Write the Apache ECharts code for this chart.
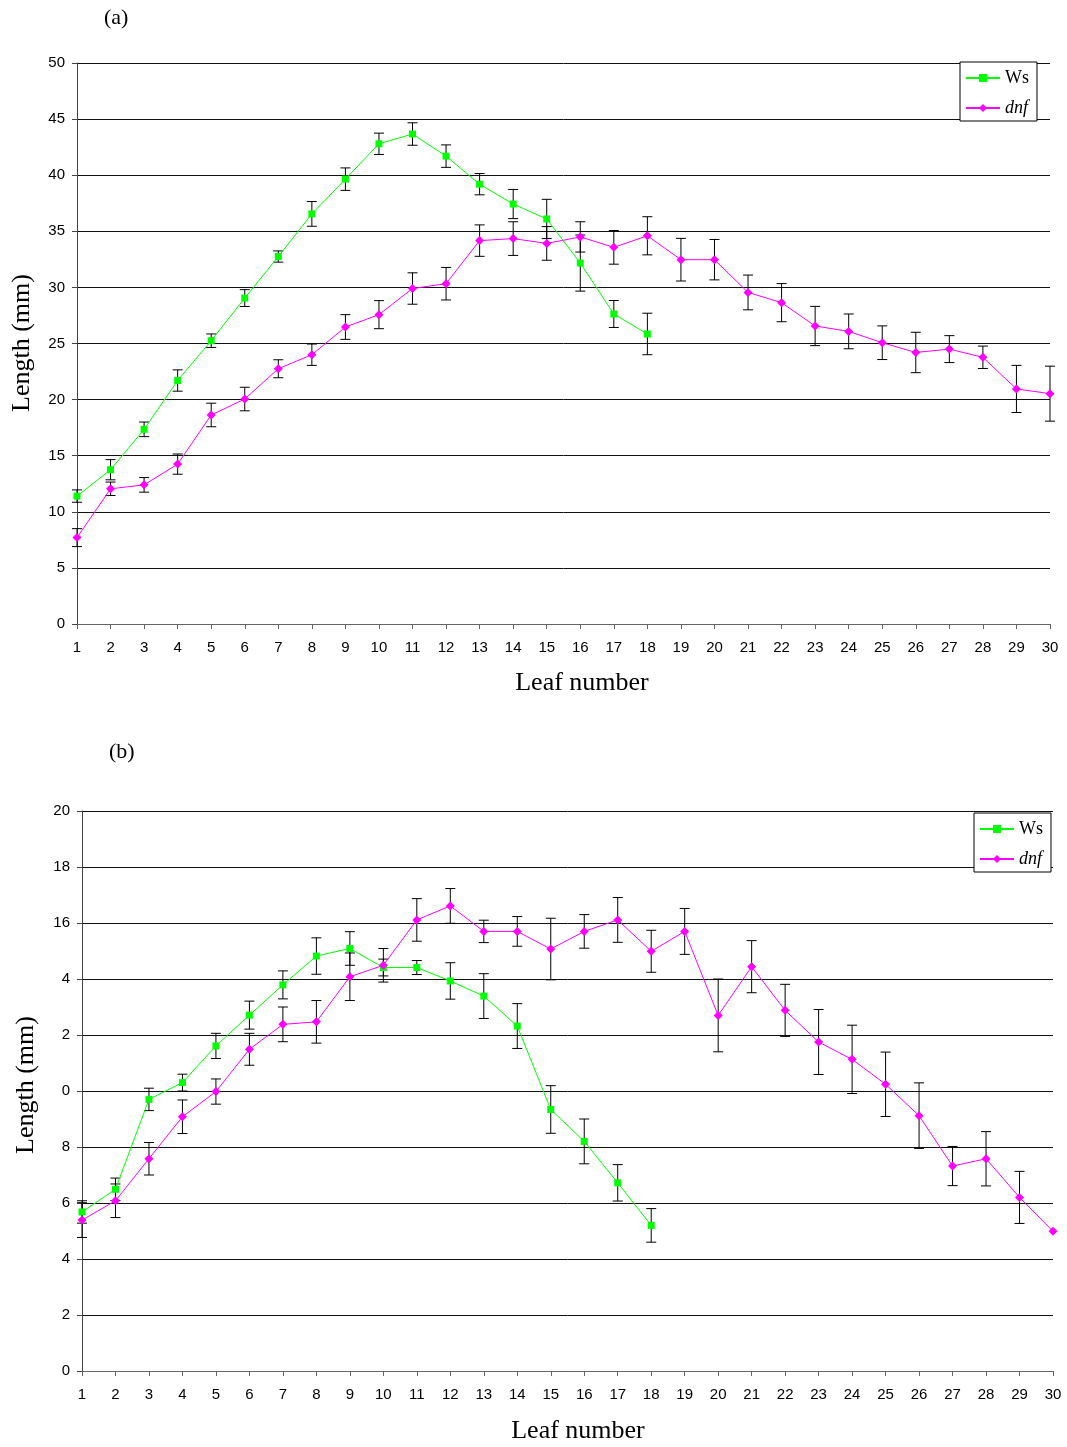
<!DOCTYPE html>
<html>
<head>
<meta charset="utf-8">
<script src="https://cdn.jsdelivr.net/npm/echarts@6/dist/echarts.min.js"></script>
<style>
  html, body { margin: 0; padding: 0; background: #fff; }
  #chart { width: 1067px; height: 1447px; }
</style>
</head>
<body>
<div id="chart"></div>
<script>
// Leaf numbers along the x axis
const leaves = [1,2,3,4,5,6,7,8,9,10,11,12,13,14,15,16,17,18,19,20,21,22,23,24,25,26,27,28,29,30];

// Panel (a): leaf length (mm) with error (±)
const wsA    = [11.4, 13.75, 17.35, 21.7, 25.25, 29.05, 32.75, 36.55, 39.65, 42.8, 43.67, 41.7, 39.2, 37.43, 36.1, 32.17, 27.63, 25.85];
const wsAErr = [0.55, 0.9, 0.65, 0.95, 0.6, 0.75, 0.5, 1.1, 1.0, 0.95, 1.0, 1.0, 0.95, 1.3, 1.75, 2.5, 1.2, 1.85];
const dnfA    = [7.7, 12.05, 12.4, 14.25, 18.63, 20.05, 22.75, 24.0, 26.47, 27.57, 29.9, 30.33, 34.17, 34.35, 33.92, 34.5, 33.57, 34.6, 32.47, 32.47, 29.55, 28.64, 26.56, 26.08, 25.07, 24.2, 24.5, 23.77, 20.95, 20.53];
const dnfAErr = [0.8, 0.6, 0.65, 0.9, 1.05, 1.05, 0.8, 0.95, 1.1, 1.25, 1.4, 1.45, 1.4, 1.5, 1.5, 1.35, 1.5, 1.7, 1.9, 1.8, 1.55, 1.7, 1.75, 1.55, 1.5, 1.8, 1.2, 1.0, 2.1, 2.45];

// Panel (b): leaf length (mm) with error (±)
const wsB    = [5.68, 6.49, 9.7, 10.3, 11.61, 12.71, 13.79, 14.82, 15.09, 14.41, 14.41, 13.93, 13.39, 12.32, 9.34, 8.2, 6.72, 5.2];
const wsBErr = [0.4, 0.4, 0.4, 0.3, 0.45, 0.5, 0.5, 0.65, 0.6, 0.3, 0.25, 0.65, 0.8, 0.8, 0.85, 0.8, 0.65, 0.6];
const dnfB    = [5.39, 6.08, 7.58, 9.08, 9.98, 11.49, 12.38, 12.47, 14.08, 14.49, 16.11, 16.61, 15.7, 15.7, 15.07, 15.7, 16.11, 14.99, 15.7, 12.7, 14.44, 12.88, 11.75, 11.13, 10.24, 9.12, 7.32, 7.58, 6.2, 4.99];
const dnfBErr = [0.62, 0.6, 0.58, 0.6, 0.45, 0.57, 0.62, 0.76, 0.85, 0.6, 0.76, 0.62, 0.4, 0.53, 1.1, 0.6, 0.8, 0.75, 0.82, 1.3, 0.93, 0.93, 1.16, 1.22, 1.15, 1.17, 0.7, 0.97, 0.93, 0];

// Y tick labels of panel (b), as printed on its axis
const bTickLabels = ['0', '2', '4', '6', '8', '0', '2', '4', '16', '18', '20'];

const GREEN = '#00ff00';
const MAGENTA = '#ff00ff';
const SANS = '"Liberation Sans", Arial, sans-serif';
const SERIF = '"Liberation Serif", "Times New Roman", serif';

const pairs = (vals) => vals.map((v, i) => [leaves[i], v]);
const triples = (vals, errs) => vals.map((v, i) => [leaves[i], v, errs[i]]);

// Vertical error bar with caps
function renderErr(params, api) {
  const x = api.value(0), y = api.value(1), e = api.value(2);
  if (!e) return null;
  const hi = api.coord([x, y + e]);
  const lo = api.coord([x, y - e]);
  const w = 5;
  const st = { stroke: '#000', lineWidth: 1 };
  return {
    type: 'group',
    children: [
      { type: 'line', shape: { x1: hi[0], y1: hi[1], x2: lo[0], y2: lo[1] }, style: st },
      { type: 'line', shape: { x1: hi[0] - w, y1: hi[1], x2: hi[0] + w, y2: hi[1] }, style: st },
      { type: 'line', shape: { x1: lo[0] - w, y1: lo[1], x2: lo[0] + w, y2: lo[1] }, style: st }
    ]
  };
}

function xAxisCfg(gridIndex) {
  return {
    type: 'value', gridIndex, min: 1, max: 30, interval: 1,
    axisLine: { show: true, onZero: false, lineStyle: { color: '#666', width: 1 } },
    axisTick: { show: true, length: 5, lineStyle: { color: '#666' } },
    axisLabel: { color: '#000', fontFamily: SANS, fontSize: 15, margin: 16 },
    splitLine: { show: false }
  };
}

function yAxisCfg(gridIndex, max, interval, formatter) {
  return {
    type: 'value', gridIndex, min: 0, max, interval,
    axisLine: { show: true, lineStyle: { color: '#444', width: 1 } },
    axisTick: { show: true, length: 5, lineStyle: { color: '#444' } },
    axisLabel: { color: '#000', fontFamily: SANS, fontSize: 15, margin: 12, formatter },
    splitLine: { show: true, lineStyle: { color: '#111', width: 1 } }
  };
}

function lineSeries(name, data, idx, symbol, size, color) {
  return {
    name, type: 'line', xAxisIndex: idx, yAxisIndex: idx, data,
    symbol, symbolSize: size,
    lineStyle: { color, width: 1 },
    itemStyle: { color },
    z: 3
  };
}

function errSeries(data, idx) {
  return {
    type: 'custom', xAxisIndex: idx, yAxisIndex: idx, data,
    renderItem: renderErr, z: 2, silent: true,
    encode: { x: 0, y: 1 }
  };
}

function legendCfg(left, top) {
  return {
    orient: 'vertical', left, top,
    borderColor: '#000', borderWidth: 1, borderRadius: 0,
    backgroundColor: '#fff',
    padding: [7, 8, 4, 5], itemGap: 12,
    itemWidth: 34, itemHeight: 10,
    textStyle: { fontFamily: SERIF, fontSize: 18, color: '#000' },
    data: [
      { name: 'Ws' },
      { name: 'dnf', textStyle: { fontStyle: 'italic' } }
    ]
  };
}

const chart = echarts.init(document.getElementById('chart'));
chart.setOption({
  animation: false,
  backgroundColor: '#fff',
  grid: [
    { left: 77, top: 63, width: 973, height: 561 },
    { left: 82, top: 811, width: 971, height: 560 }
  ],
  xAxis: [xAxisCfg(0), xAxisCfg(1)],
  yAxis: [
    yAxisCfg(0, 50, 5),
    yAxisCfg(1, 20, 2, (v) => bTickLabels[Math.round(v / 2)])
  ],
  legend: [legendCfg(960, 62), legendCfg(974, 813)],
  graphic: [
    { type: 'text', x: 104, y: 18,
      style: { text: '(a)', font: '22px ' + SERIF, fill: '#000', align: 'left', verticalAlign: 'middle' } },
    { type: 'text', x: 109, y: 752,
      style: { text: '(b)', font: '22px ' + SERIF, fill: '#000', align: 'left', verticalAlign: 'middle' } },
    { type: 'text', x: 22, y: 343, rotation: Math.PI / 2,
      style: { text: 'Length (mm)', font: '26px ' + SERIF, fill: '#000', align: 'center', verticalAlign: 'middle' } },
    { type: 'text', x: 26, y: 1085, rotation: Math.PI / 2,
      style: { text: 'Length (mm)', font: '26px ' + SERIF, fill: '#000', align: 'center', verticalAlign: 'middle' } },
    { type: 'text', x: 582, y: 683,
      style: { text: 'Leaf number', font: '26px ' + SERIF, fill: '#000', align: 'center', verticalAlign: 'middle' } },
    { type: 'text', x: 578, y: 1431,
      style: { text: 'Leaf number', font: '26px ' + SERIF, fill: '#000', align: 'center', verticalAlign: 'middle' } }
  ],
  series: [
    errSeries(triples(wsA, wsAErr), 0),
    errSeries(triples(dnfA, dnfAErr), 0),
    lineSeries('Ws', pairs(wsA), 0, 'rect', 7, GREEN),
    lineSeries('dnf', pairs(dnfA), 0, 'diamond', 9, MAGENTA),
    errSeries(triples(wsB, wsBErr), 1),
    errSeries(triples(dnfB, dnfBErr), 1),
    lineSeries('Ws', pairs(wsB), 1, 'rect', 7, GREEN),
    lineSeries('dnf', pairs(dnfB), 1, 'diamond', 9, MAGENTA)
  ]
});
</script>
</body>
</html>
